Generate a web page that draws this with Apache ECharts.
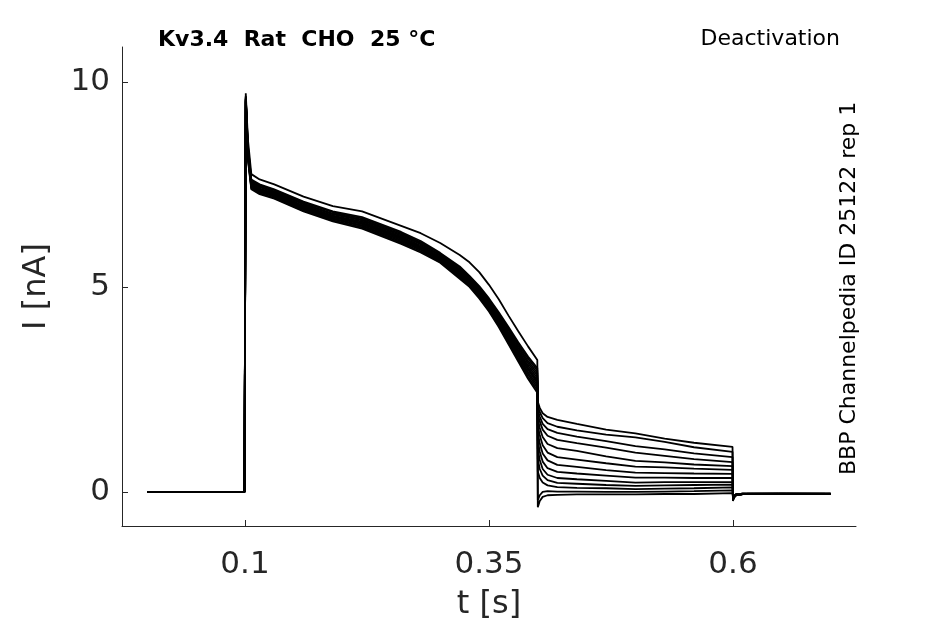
<!DOCTYPE html>
<html>
<head>
<meta charset="utf-8">
<script src="https://cdn.jsdelivr.net/npm/echarts@6/dist/echarts.min.js"></script>
<style>
  html, body { margin: 0; padding: 0; background: #fff; }
  #chart { width: 945px; height: 624px; }
</style>
</head>
<body>
<div id="chart"></div>
<script>
// time points [s] for the three parts of the protocol
var tActivation = [0, 0.0995, 0.1008, 0.103, 0.1065, 0.115, 0.13, 0.16, 0.19, 0.22, 0.26, 0.28, 0.3, 0.32, 0.33, 0.34, 0.35, 0.36, 0.37, 0.38, 0.39, 0.3995];
var tTail = [0.4, 0.402, 0.405, 0.41, 0.42, 0.44, 0.47, 0.5, 0.53, 0.56, 0.5995];
var tAfter = [0.6, 0.6006, 0.603, 0.61, 0.65, 0.7];

// current [nA], one row per sweep
var activation = [
  [0, 0, 9.64, 8.42, 7.6, 7.48, 7.36, 7.06, 6.82, 6.67, 6.31, 6.09, 5.81, 5.47, 5.24, 4.99, 4.69, 4.34, 3.98, 3.6, 3.25, 2.96],
  [0, 0, 9.58, 8.28, 7.5, 7.38, 7.27, 6.96, 6.72, 6.56, 6.2, 5.98, 5.71, 5.35, 5.14, 4.87, 4.56, 4.2, 3.81, 3.42, 3.03, 2.72],
  [0, 0, 9.6, 8.35, 7.55, 7.43, 7.31, 7.01, 6.77, 6.62, 6.25, 6.04, 5.76, 5.41, 5.19, 4.93, 4.62, 4.27, 3.89, 3.51, 3.14, 2.84],
  [0, 0, 9.72, 8.6, 7.75, 7.62, 7.5, 7.2, 6.97, 6.84, 6.49, 6.31, 6.07, 5.78, 5.6, 5.36, 5.05, 4.7, 4.3, 3.92, 3.55, 3.22],
  [0, 0, 9.55, 8.21, 7.45, 7.33, 7.22, 6.91, 6.67, 6.5, 6.14, 5.92, 5.66, 5.29, 5.08, 4.81, 4.5, 4.13, 3.73, 3.32, 2.92, 2.6],
  [0, 0, 9.65, 8.45, 7.62, 7.5, 7.38, 7.08, 6.84, 6.7, 6.34, 6.12, 5.83, 5.5, 5.27, 5.02, 4.72, 4.38, 4.02, 3.65, 3.3, 3.02],
  [0, 0, 9.52, 8.14, 7.4, 7.28, 7.17, 6.86, 6.62, 6.45, 6.08, 5.87, 5.61, 5.23, 5.03, 4.75, 4.43, 4.06, 3.64, 3.23, 2.81, 2.48],
  [0, 0, 9.59, 8.31, 7.52, 7.4, 7.29, 6.98, 6.74, 6.59, 6.22, 6.01, 5.73, 5.38, 5.16, 4.9, 4.59, 4.24, 3.85, 3.46, 3.08, 2.78],
  [0, 0, 9.5, 8.1, 7.38, 7.26, 7.15, 6.84, 6.6, 6.42, 6.05, 5.84, 5.59, 5.2, 5.0, 4.72, 4.4, 4.02, 3.6, 3.18, 2.76, 2.42],
  [0, 0, 9.56, 8.24, 7.48, 7.36, 7.24, 6.94, 6.7, 6.53, 6.17, 5.95, 5.69, 5.32, 5.11, 4.84, 4.53, 4.16, 3.77, 3.37, 2.98, 2.66],
  [0, 0, 9.62, 8.38, 7.57, 7.45, 7.33, 7.03, 6.79, 6.64, 6.28, 6.06, 5.78, 5.44, 5.22, 4.96, 4.66, 4.31, 3.94, 3.56, 3.19, 2.9],
  [0, 0, 9.53, 8.17, 7.43, 7.31, 7.2, 6.89, 6.65, 6.48, 6.11, 5.9, 5.64, 5.26, 5.05, 4.78, 4.46, 4.09, 3.68, 3.27, 2.87, 2.54],
  [0, 0, 9.57, 8.26, 7.49, 7.37, 7.25, 6.95, 6.71, 6.55, 6.18, 5.97, 5.7, 5.34, 5.12, 4.86, 4.54, 4.18, 3.79, 3.39, 3.0, 2.69]
];

var tail = [
  [2.2, 2.05, 1.92, 1.83, 1.76, 1.66, 1.52, 1.43, 1.3, 1.2, 1.1],
  [2.1, 1.95, 1.8, 1.68, 1.59, 1.5, 1.4, 1.33, 1.22, 1.09, 0.98],
  [2.0, 1.84, 1.66, 1.53, 1.44, 1.35, 1.24, 1.12, 1.04, 0.94, 0.85],
  [1.9, 1.72, 1.52, 1.37, 1.27, 1.19, 1.08, 0.96, 0.88, 0.8, 0.73],
  [1.78, 1.56, 1.34, 1.17, 1.07, 1.0, 0.87, 0.76, 0.72, 0.67, 0.63],
  [1.62, 1.38, 1.14, 0.96, 0.85, 0.79, 0.7, 0.62, 0.6, 0.57, 0.54],
  [1.45, 1.18, 0.94, 0.77, 0.66, 0.61, 0.53, 0.47, 0.46, 0.45, 0.44],
  [1.25, 0.98, 0.74, 0.58, 0.49, 0.45, 0.4, 0.35, 0.35, 0.34, 0.34],
  [1.05, 0.78, 0.56, 0.42, 0.34, 0.31, 0.27, 0.23, 0.24, 0.24, 0.24],
  [0.8, 0.56, 0.4, 0.29, 0.22, 0.2, 0.17, 0.15, 0.16, 0.17, 0.18],
  [0.5, 0.34, 0.23, 0.16, 0.12, 0.1, 0.09, 0.07, 0.08, 0.09, 0.11],
  [-0.2, -0.08, 0.0, 0.02, 0.01, 0.01, 0.0, 0.0, 0.01, 0.02, 0.04],
  [-0.37, -0.22, -0.12, -0.08, -0.07, -0.06, -0.06, -0.06, -0.05, -0.05, -0.03]
];

var after = [
  [-0.22, -0.15, -0.08, -0.05, -0.05, -0.05],
  [-0.21, -0.15, -0.08, -0.05, -0.04, -0.05],
  [-0.21, -0.14, -0.08, -0.05, -0.05, -0.04],
  [-0.2, -0.14, -0.07, -0.05, -0.04, -0.05],
  [-0.2, -0.14, -0.07, -0.05, -0.05, -0.05],
  [-0.19, -0.13, -0.07, -0.05, -0.04, -0.04],
  [-0.19, -0.13, -0.07, -0.04, -0.05, -0.05],
  [-0.18, -0.12, -0.07, -0.05, -0.04, -0.05],
  [-0.18, -0.12, -0.06, -0.04, -0.05, -0.04],
  [-0.17, -0.12, -0.06, -0.05, -0.04, -0.05],
  [-0.17, -0.11, -0.06, -0.04, -0.05, -0.05],
  [-0.16, -0.11, -0.06, -0.05, -0.04, -0.04],
  [-0.15, -0.1, -0.06, -0.04, -0.05, -0.05]
];

var xTicks = [0.1, 0.35, 0.6];
var yTicks = [0, 5, 10];

var axisColor = '#262626';
var font = 'DejaVu Sans';

var time = tActivation.concat(tTail, tAfter);
var series = activation.map(function (row, k) {
  var values = row.concat(tail[k], after[k]);
  return {
    type: 'line',
    data: time.map(function (t, i) { return [t, values[i]]; }),
    showSymbol: false,
    silent: true,
    lineStyle: { color: '#000', width: 1.8 }
  };
});

var chart = echarts.init(document.getElementById('chart'));
chart.setOption({
  animation: false,
  backgroundColor: '#fff',
  grid: { left: 122, right: 89, top: 47, bottom: 98, containLabel: false, outerBoundsMode: 'none' },
  xAxis: {
    type: 'value',
    min: -0.026,
    max: 0.726,
    name: 't [s]',
    nameLocation: 'middle',
    nameGap: 63,
    nameTextStyle: { fontFamily: font, fontSize: 32, color: axisColor },
    axisLine: { show: true, onZero: false, lineStyle: { color: axisColor, width: 1 } },
    axisTick: { show: true, inside: true, length: 6, customValues: xTicks, lineStyle: { color: axisColor } },
    axisLabel: { customValues: xTicks, fontFamily: font, fontSize: 31, color: axisColor, margin: 23 },
    splitLine: { show: false }
  },
  yAxis: {
    type: 'value',
    min: -0.83,
    max: 10.85,
    name: 'I [nA]',
    nameLocation: 'middle',
    nameGap: 69,
    nameTextStyle: { fontFamily: font, fontSize: 32, color: axisColor },
    axisLine: { show: true, onZero: false, lineStyle: { color: axisColor, width: 1 } },
    axisTick: { show: true, inside: true, length: 6, customValues: yTicks, lineStyle: { color: axisColor } },
    axisLabel: { customValues: yTicks, fontFamily: font, fontSize: 31, color: axisColor, margin: 12 },
    splitLine: { show: false }
  },
  graphic: [
    {
      type: 'text', left: 158, top: 29,
      style: { text: 'Kv3.4  Rat  CHO  25 °C', font: 'bold 22px "DejaVu Sans"', fill: '#000' }
    },
    {
      type: 'text', right: 105, top: 28,
      style: { text: 'Deactivation', font: '22px "DejaVu Sans"', fill: '#000' }
    },
    {
      type: 'text', x: 838, y: 475, rotation: Math.PI / 2,
      style: { text: 'BBP Channelpedia ID 25122 rep 1', font: '22px "DejaVu Sans"', fill: '#000', textVerticalAlign: 'top' }
    }
  ],
  series: series
});
</script>
</body>
</html>
